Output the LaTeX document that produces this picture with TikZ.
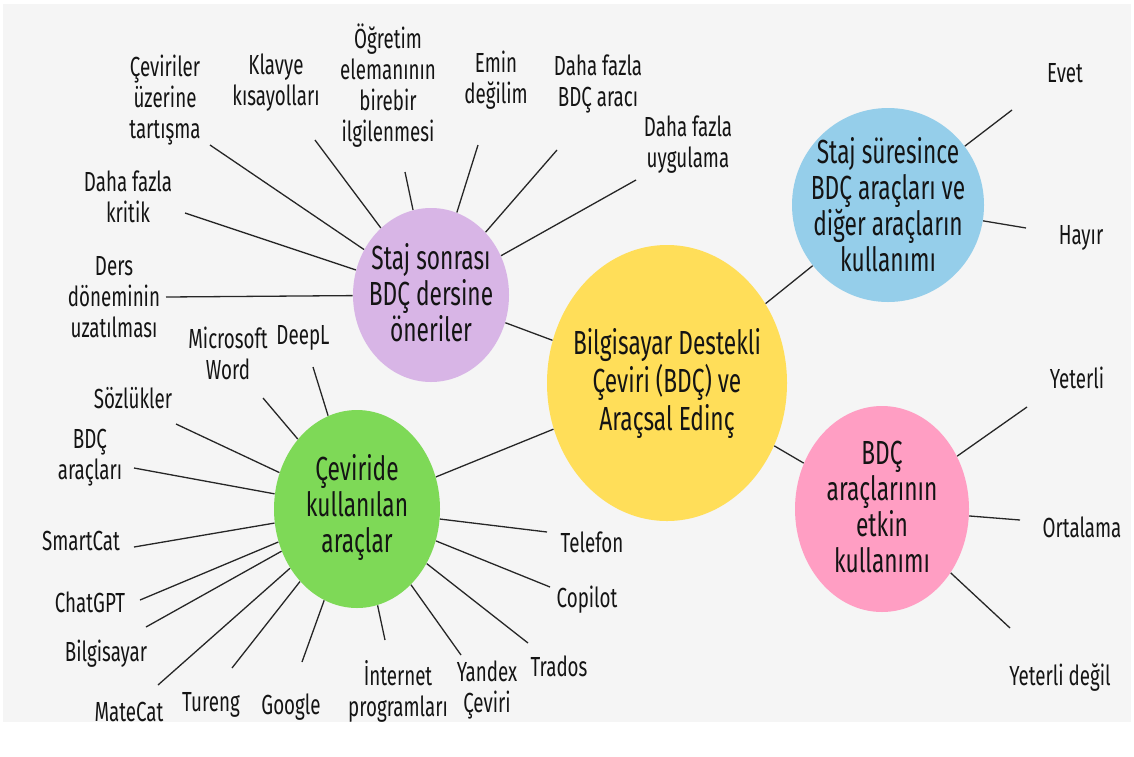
\documentclass[tikz,border=0pt]{standalone}
\usepackage{fontspec}
\setmainfont{Fira Sans}[FakeStretch=0.68]
\usetikzlibrary{shapes.geometric,positioning}
\definecolor{paper}{HTML}{F5F5F5}
\definecolor{hubYellow}{HTML}{FFDE59}
\definecolor{lilac}{HTML}{D8B5E6}
\definecolor{leafGreen}{HTML}{7ED957}
\definecolor{skyBlue}{HTML}{95CEEA}
\definecolor{rosePink}{HTML}{FF9EC3}
\definecolor{ink}{HTML}{141414}

\begin{document}
\begin{tikzpicture}[
    x=0.5pt, y=-0.5pt,
    blob/.style={ellipse, inner sep=0pt},
    hubtext/.style={align=center, inner sep=0pt, text=ink, font=\fontsize{16.7}{19}\selectfont},
    topictext/.style={align=center, inner sep=0pt, text=ink, font=\fontsize{16.7}{18}\selectfont},
    leaf/.style={align=center, inner sep=0pt, text=ink, font=\fontsize{13.8}{15.5}\selectfont},
    link/.style={draw=black!85, line width=0.65pt}
]
\useasboundingbox (0,0) rectangle (1134,756);
\fill[white] (0,0) rectangle (1134,756);
\fill[paper] (3,4) rectangle (1131,722);
% Main circles
\node[blob, fill=hubYellow, minimum width=120pt, minimum height=138pt] (hub) at (667,383) {};
\node[blob, fill=lilac, minimum width=78pt, minimum height=87pt] (after) at (431,295) {};
\node[blob, fill=leafGreen, minimum width=83pt, minimum height=99pt] (tools) at (357,509) {};
\node[blob, fill=skyBlue, minimum width=96pt, minimum height=97pt] (usage) at (888,205) {};
\node[blob, fill=rosePink, minimum width=87pt, minimum height=103pt] (skill) at (882,509) {};
\node[hubtext] (hub-text) at (hub) {Bilgisayar Destekli\\Çeviri (BDÇ) ve\\Araçsal Edinç};
\node[topictext] (after-text) at (431,293) {Staj sonrası\\BDÇ dersine\\öneriler};
\node[topictext] (tools-text) at (357,507) {Çeviride\\kullanılan\\araçlar};
\node[topictext] (usage-text) at (usage) {Staj süresince\\BDÇ araçları ve\\diğer araçların\\kullanımı};
\node[topictext] (skill-text) at (882,507) {BDÇ\\araçlarının\\etkin\\kullanımı};
% Links to the hub
\draw[link] (after) -- (hub);
\draw[link] (tools) -- (hub);
\draw[link] (usage) -- (hub);
\draw[link] (skill) -- (hub);
% Suggestions after the internship
\node[leaf] (discuss) at (165,100) {Çeviriler\\üzerine\\tartışma};
\node[leaf] (keys) at (276,83) {Klavye\\kısayolları};
\node[leaf] (tutor) at (388,86) {Öğretim\\elemanının\\birebir\\ilgilenmesi};
\node[leaf] (unsure) at (496,80) {Emin\\değilim};
\node[leaf] (moretools) at (598,84) {Daha fazla\\BDÇ aracı};
\node[leaf] (practice) at (688,145) {Daha fazla\\uygulama};
\node[leaf] (critic) at (128,197) {Daha fazla\\kritik};
\node[leaf] (longer) at (114,297) {Ders\\döneminin\\uzatılması};
\coordinate (discuss-end) at (210,145);
\coordinate (keys-end) at (315,140);
\coordinate (tutor-end) at (405,172);
\coordinate (unsure-end) at (478,145);
\coordinate (moretools-end) at (557,150);
\coordinate (practice-end) at (636,180);
\coordinate (critic-end) at (185,213);
\coordinate (longer-end) at (166,297);
\draw[link] (after) -- (discuss-end);
\draw[link] (after) -- (keys-end);
\draw[link] (after) -- (tutor-end);
\draw[link] (after) -- (unsure-end);
\draw[link] (after) -- (moretools-end);
\draw[link] (after) -- (practice-end);
\draw[link] (after) -- (critic-end);
\draw[link] (after) -- (longer-end);
% Tools used in translation
\node[leaf] (word) at (228,353) {Microsoft\\Word};
\node[leaf] (deepl) at (303,338) {DeepL};
\node[leaf] (dict) at (133,398) {Sözlükler};
\node[leaf] (cat) at (90,458) {BDÇ\\araçları};
\node[leaf] (smartcat) at (81,541) {SmartCat};
\node[leaf] (chatgpt) at (90,602) {ChatGPT};
\node[leaf] (computer) at (106,654) {Bilgisayar};
\node[leaf] (matecat) at (129,712) {MateCat};
\node[leaf] (tureng) at (211,705) {Tureng};
\node[leaf] (google) at (291,707) {Google};
\node[leaf] (web) at (398,691) {İnternet\\programları};
\node[leaf] (yandex) at (487,690) {Yandex\\Çeviri};
\node[leaf] (trados) at (559,666) {Trados};
\node[leaf] (copilot) at (587,600) {Copilot};
\node[leaf] (phone) at (592,542) {Telefon};
\coordinate (word-end) at (263,398);
\coordinate (deepl-end) at (313,367);
\coordinate (dict-end) at (176,424);
\coordinate (cat-end) at (134,468);
\coordinate (smartcat-end) at (134,547);
\coordinate (chatgpt-end) at (140,600);
\coordinate (computer-end) at (146,627);
\coordinate (matecat-end) at (158,685);
\coordinate (tureng-end) at (232,668);
\coordinate (google-end) at (302,662);
\coordinate (web-end) at (385,640);
\coordinate (yandex-end) at (461,655);
\coordinate (trados-end) at (528,643);
\coordinate (copilot-end) at (550,587);
\coordinate (phone-end) at (547,532);
\draw[link] (tools) -- (word-end);
\draw[link] (tools) -- (deepl-end);
\draw[link] (tools) -- (dict-end);
\draw[link] (tools) -- (cat-end);
\draw[link] (tools) -- (smartcat-end);
\draw[link] (tools) -- (chatgpt-end);
\draw[link] (tools) -- (computer-end);
\draw[link] (tools) -- (matecat-end);
\draw[link] (tools) -- (tureng-end);
\draw[link] (tools) -- (google-end);
\draw[link] (tools) -- (web-end);
\draw[link] (tools) -- (yandex-end);
\draw[link] (tools) -- (trados-end);
\draw[link] (tools) -- (copilot-end);
\draw[link] (tools) -- (phone-end);
% Use during the internship
\node[leaf] (yes) at (1065,73) {Evet};
\node[leaf] (no) at (1081,238) {Hayır};
\coordinate (yes-end) at (1012,110);
\coordinate (no-end) at (1026,228);
\draw[link] (usage) -- (yes-end);
\draw[link] (usage) -- (no-end);
% Effective use
\node[leaf] (enough) at (1077,378) {Yeterli};
\node[leaf] (average) at (1082,527) {Ortalama};
\node[leaf] (poor) at (1060,678) {Yeterli değil};
\coordinate (enough-end) at (1027,407);
\coordinate (average-end) at (1020,520);
\coordinate (poor-end) at (1010,628);
\draw[link] (skill) -- (enough-end);
\draw[link] (skill) -- (average-end);
\draw[link] (skill) -- (poor-end);
\end{tikzpicture}
\end{document}
